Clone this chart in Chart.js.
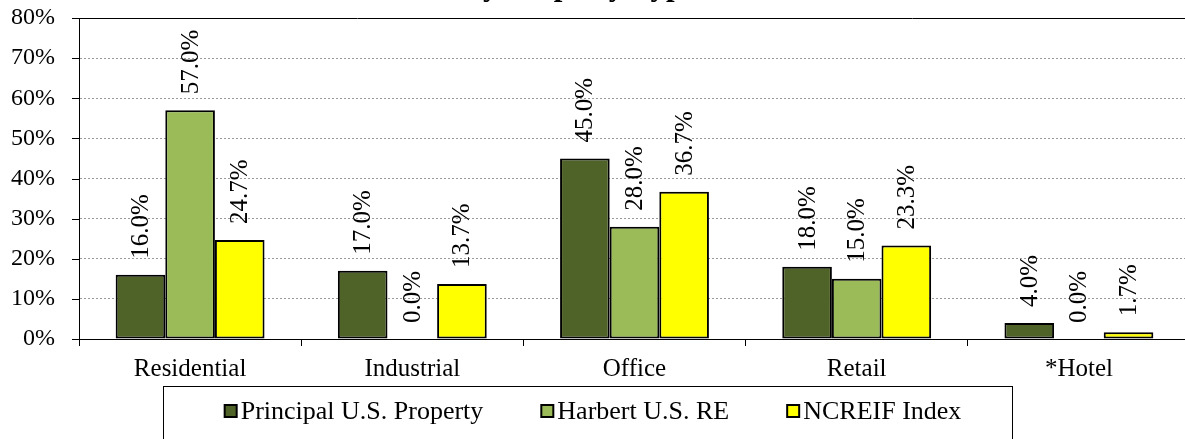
<!DOCTYPE html>
<html>
<head>
<meta charset="utf-8">
<title>Allocation by Property Type</title>
<script src="https://cdn.jsdelivr.net/npm/chart.js"></script>
<style>
  html, body { margin: 0; padding: 0; overflow: hidden; background: #fff; }
  #wrap { position: relative; width: 1190px; height: 439px; }
</style>
</head>
<body>
<div id="wrap"><canvas id="allocChart"></canvas></div>
<script>
// ---- data ----
const categories = ['Residential', 'Industrial', 'Office', 'Retail', '*Hotel'];
const principal = [16.0, 17.0, 45.0, 18.0, 4.0];
const harbert = [57.0, 0.0, 28.0, 15.0, 0.0];
const ncreif = [24.7, 13.7, 36.7, 23.3, 1.7];
const seriesNames = ['Principal U.S. Property', 'Harbert U.S. RE', 'NCREIF Index'];
const seriesColors = ['#4F6228', '#9BBB59', '#FFFF00'];
const chartTitle = 'Allocation by Property Type';

const serif = "'Liberation Serif', 'Times New Roman', serif";
Chart.defaults.font.family = serif;
Chart.defaults.color = '#000';

// cut-off title at the very top
const titlePlugin = {
  id: 'cutTitle',
  afterDraw(chart) {
    const ctx = chart.ctx;
    ctx.save();
    ctx.font = 'bold 31px ' + serif;
    ctx.fillStyle = '#000';
    ctx.textAlign = 'right';
    ctx.textBaseline = 'alphabetic';
    ctx.fillText(chartTitle, 697, -5.5);
    ctx.restore();
  }
};

// solid tick marks on the value axis
const yTickPlugin = {
  id: 'yTickMarks',
  afterDraw(chart) {
    const y = chart.scales.y;
    const ctx = chart.ctx;
    ctx.save();
    ctx.strokeStyle = '#000';
    ctx.lineWidth = 1;
    y.ticks.forEach(t => {
      const py = Math.round(y.getPixelForValue(t.value)) + 0.5;
      ctx.beginPath();
      ctx.moveTo(y.right - 7, py);
      ctx.lineTo(y.right, py);
      ctx.stroke();
    });
    ctx.restore();
  }
};

// rotated value labels above bars
const labelPlugin = {
  id: 'barLabels',
  afterDatasetsDraw(chart) {
    const ctx = chart.ctx;
    ctx.save();
    ctx.font = '25px ' + serif;
    ctx.fillStyle = '#000';
    ctx.textAlign = 'left';
    ctx.textBaseline = 'middle';
    chart.data.datasets.forEach((ds, i) => {
      chart.getDatasetMeta(i).data.forEach((bar, j) => {
        ctx.save();
        ctx.translate(bar.x + 1, bar.y - 16);
        ctx.rotate(-Math.PI / 2);
        ctx.fillText(ds.data[j].toFixed(1) + '%', 0, 0);
        ctx.restore();
      });
    });
    ctx.restore();
  }
};

// boxed legend under the axis
const legendPlugin = {
  id: 'boxLegend',
  afterDraw(chart) {
    const ctx = chart.ctx;
    const box = 12, gapText = 4, gapItem = 58;
    ctx.save();
    ctx.font = '26px ' + serif;
    const widths = chart.data.datasets.map(ds => box + gapText + ctx.measureText(ds.label).width);
    const total = widths.reduce((a, b) => a + b, 0) + gapItem * (widths.length - 1);
    const cx = chart.width / 2 - 2;
    const top = chart.scales.x.bottom + 2;
    const start = cx - total / 2;
    const left = Math.round(start - 62) + 0.5;
    const right = Math.round(start + total + 51) + 0.5;
    ctx.strokeStyle = '#000';
    ctx.lineWidth = 1;
    ctx.strokeRect(left, top + 0.5, right - left, 80);
    let x = start;
    const midY = top + 25;
    ctx.textAlign = 'left';
    ctx.textBaseline = 'middle';
    chart.data.datasets.forEach((ds, i) => {
      ctx.fillStyle = ds.backgroundColor;
      ctx.fillRect(x, midY - box / 2, box, box);
      ctx.lineWidth = 2;
      ctx.strokeRect(x, midY - box / 2, box, box);
      ctx.fillStyle = '#000';
      ctx.fillText(ds.label, x + box + gapText, midY + 1);
      x += widths[i] + gapItem;
    });
    ctx.restore();
  }
};

const seriesData = [principal, harbert, ncreif];

new Chart(document.getElementById('allocChart'), {
  type: 'bar',
  data: {
    labels: categories,
    datasets: seriesNames.map((name, i) => ({
      label: name,
      data: seriesData[i],
      backgroundColor: seriesColors[i],
      borderColor: '#000',
      borderWidth: 2,
      borderSkipped: false,
      categoryPercentage: 0.67,
      barPercentage: 1.0
    }))
  },
  options: {
    responsive: true,
    maintainAspectRatio: false,
    animation: false,
    layout: { padding: { top: 18, right: 0, bottom: 55, left: 0 } },
    plugins: {
      legend: { display: false },
      tooltip: { enabled: false }
    },
    scales: {
      x: {
        afterFit: s => { s.height = 45; },
        grid: {
          display: true,
          drawOnChartArea: false,
          drawTicks: true,
          tickLength: 7,
          color: '#000',
          offset: true
        },
        border: { color: '#000', width: 1 },
        ticks: { font: { size: 25 }, padding: 8, color: '#000' }
      },
      y: {
        min: 0,
        max: 80,
        afterFit: s => { s.width = 79; },
        grid: {
          color: c => (c.tick && c.tick.value === 80) ? '#000' : '#9a9a9a',
          tickColor: 'rgba(0,0,0,0)',
          tickLength: 22,
          drawTicks: true
        },
        border: {
          color: '#000',
          width: 1,
          dash: c => (c.tick && c.tick.value === 80) ? [] : [2, 2]
        },
        ticks: {
          stepSize: 10,
          padding: 2,
          font: { size: 24 },
          color: '#000',
          callback: v => v + '%'
        }
      }
    }
  },
  plugins: [titlePlugin, yTickPlugin, labelPlugin, legendPlugin]
});
</script>
</body>
</html>
